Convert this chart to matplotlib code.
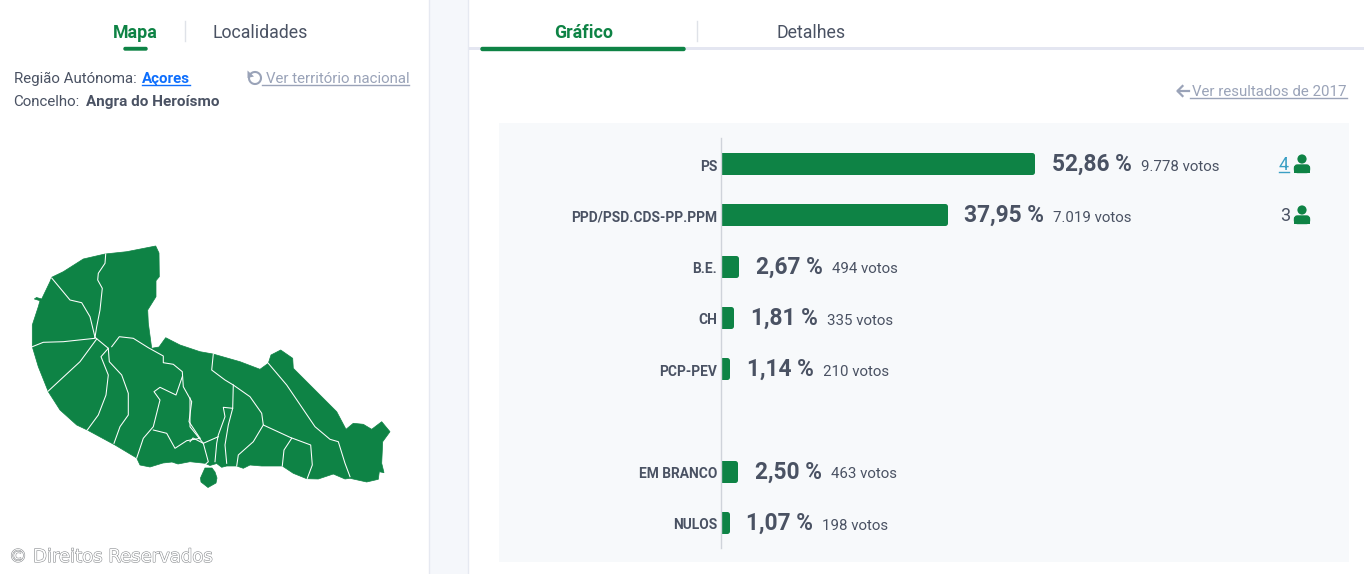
import matplotlib
matplotlib.use("Agg")
import matplotlib.pyplot as plt
import matplotlib.patheffects as pe
from matplotlib.patches import Polygon, Rectangle, Circle, FancyBboxPatch, Arc
from matplotlib.transforms import ScaledTranslation

plt.rcParams["font.family"] = ["Roboto", "DejaVu Sans"]

# dados
partidos = ["PS", "PPD/PSD.CDS-PP.PPM", "B.E.", "CH", "PCP-PEV", "", "EM BRANCO", "NULOS"]
percent = [52.86, 37.95, 2.67, 1.81, 1.14, 0, 2.50, 1.07]
percent_txt = ["52,86 %", "37,95 %", "2,67 %", "1,81 %", "1,14 %", "", "2,50 %", "1,07 %"]
votos_txt = ["9.778 votos", "7.019 votos", "494 votos", "335 votos", "210 votos", "", "463 votos", "198 votos"]
mandatos = ["4", "3"]

VERDE = "#0e8345"
ESCURO = "#4a5263"
CINZA = "#9aa3b8"

# contorno do concelho (pixeis)
ilha = [(155.7, 246), (159, 253), (159.3, 276.7), (156, 280.7), (156, 296.7), (147.7, 310), (148.3, 323),
        (151.7, 348.3), (159, 347), (165.7, 337.7), (180, 345), (200, 351.7), (213, 354), (240, 361.7),
        (260, 369.3), (268.3, 363.3), (271, 355), (280.7, 350), (292.7, 358.3), (293.3, 368.3),
        (336.7, 411.7), (346, 429.3), (353.3, 423.3), (363.3, 424.3), (371.7, 429.3), (381.7, 421.7),
        (390, 431.7), (382.7, 441.7), (381.7, 463.3), (384, 472.7), (379.3, 471.7), (378.3, 479.3),
        (366.7, 482), (350, 478.3), (345, 479), (333.3, 474), (318.3, 479), (306.7, 478.7), (293.3, 473.3),
        (282.3, 466), (261.7, 466), (250, 465), (243.3, 468.3), (236.7, 466), (226.7, 466), (221.7, 467.3),
        (216.7, 463.5), (210, 465.5), (205, 463.3), (190, 461.7), (178, 464), (172, 462), (163, 463),
        (150, 467), (140, 465), (136.7, 458), (115, 445), (87.3, 430), (76.7, 425), (60, 410), (48.3, 391.7),
        (38.3, 366.7), (32.3, 346.7), (32.3, 325), (38.3, 306.7), (40, 300.7), (34.3, 299), (36.5, 297.5),
        (41.7, 299), (50, 281.7), (51.7, 277.3), (63.3, 271.7), (83.3, 259), (105, 254), (126.7, 251.7)]
ilheu = [(205, 468), (212, 468), (215, 472), (217, 478), (216, 483), (208, 487.5), (201, 482), (200.5, 478)]

fronteiras = [
    [(105.7, 254), (105, 263.3), (98.3, 273.3), (97.7, 280), (102.3, 288.3), (100, 310), (96.7, 326.7), (95, 337.3)],
    [(51.7, 278), (70, 300), (81.7, 302.7), (90, 316.7), (95, 337.3)],
    [(32.3, 346.7), (43.3, 342.3), (63.3, 341.7), (95, 338.3)],
    [(48.3, 391), (80, 361.7), (96.7, 339)],
    [(95, 337.3), (108.3, 348.3), (101, 356.7), (108.3, 375), (106, 395), (98.3, 415), (87.3, 430)],
    [(108.3, 348.3), (109.3, 361.7), (121.7, 375), (128.3, 393.3), (128.3, 415), (120, 426.7), (114, 443.3)],
    [(111.7, 346.7), (119.3, 336.7), (133.3, 338.3), (148.3, 347.7), (163.3, 356), (163.3, 362.7), (173.3, 364.3),
     (182.3, 371.7), (183.3, 386.7), (191.7, 401.7), (189, 421.7), (200, 438.3)],
    [(182.3, 376.7), (176, 395), (160, 387.3), (154, 391.7), (160, 400), (153.3, 426.7), (143.3, 438.3), (136.7, 458)],
    [(153.3, 430), (166.7, 433.3), (175, 448.3), (186.7, 440.7), (200, 438.3)],
    [(213.3, 354), (211.7, 370), (225, 380), (233.3, 385), (250, 396.7), (261.7, 413.3), (263.3, 425), (290, 437.3),
     (310.7, 445), (312.3, 465), (307.3, 478.3)],
    [(268.3, 363.3), (286.7, 385), (315, 426.7), (330, 439.3), (338.3, 441.7), (345, 463.3), (350, 476.7)],
    [(233.3, 385), (232.7, 408.3), (223.3, 407.3), (225, 416.7), (218.3, 435), (216.7, 443.3), (215, 461.7)],
    [(232.7, 408.3), (228.3, 425), (225, 445), (226.7, 463.3)],
    [(263.3, 425), (253.3, 441.7), (238.3, 455), (236.7, 466)],
    [(291.7, 438.3), (284, 450), (282.3, 466)],
    [(190, 398), (190, 426.7), (203.3, 443.3), (208.3, 461.7), (205, 464.7)],
    [(190, 441.7), (193, 438), (203.3, 443.3), (218.3, 436.7)],
]

fig = plt.figure(figsize=(13.64, 5.74), dpi=100, facecolor="white")

# fundo da pagina em pixeis
pg = fig.add_axes([0, 0, 1, 1])
pg.set_xlim(0, 1364)
pg.set_ylim(574, 0)
pg.axis("off")

pg.add_patch(Rectangle((429, 0), 39, 574, fc="#f5f7fb", ec="none"))
pg.plot([429, 429], [0, 574], color="#e6e9f1", lw=1)
pg.plot([468, 468], [0, 574], color="#e6e9f1", lw=1)
pg.add_patch(Rectangle((499, 123), 850, 439, fc="#f7f9fb", ec="none"))

# separadores
pg.add_patch(Rectangle((469, 47), 895, 3, fc="#e4e6f1", ec="none"))
pg.add_patch(FancyBboxPatch((481, 47.5), 204, 3, boxstyle="round,pad=0,rounding_size=1.5", fc=VERDE, ec=VERDE, lw=1))
pg.add_patch(FancyBboxPatch((124, 47.5), 23, 2.5, boxstyle="round,pad=0,rounding_size=1.2", fc=VERDE, ec=VERDE, lw=1))
pg.plot([184.5, 184.5], [21, 41], color="#dfe2e8", lw=1)
pg.plot([696.5, 696.5], [21, 41], color="#dfe2e8", lw=1)

pg.text(135.5, 33, "Mapa", color=VERDE, fontsize=12.8, fontweight="bold", ha="center", va="center")
pg.text(260.5, 33, "Localidades", color=ESCURO, fontsize=12.8, ha="center", va="center")
pg.text(583.5, 33, "Gráfico", color=VERDE, fontsize=12.8, fontweight="bold", ha="center", va="center")
pg.text(811, 33, "Detalhes", color=ESCURO, fontsize=12.8, ha="center", va="center")

pg.text(14, 79, "Região Autónoma:", color=ESCURO, fontsize=10.8, va="center")
pg.text(142, 79, "Açores", color="#0d6efd", fontsize=10.9, fontweight="bold", va="center")
pg.plot([142, 190], [85, 85], color="#0d6efd", lw=1)
pg.text(13.5, 102, "Concelho:", color=ESCURO, fontsize=10.8, va="center")
pg.text(86, 102, "Angra do Heroísmo", color=ESCURO, fontsize=11, fontweight="bold", va="center")

# icone de voltar
pg.add_patch(Arc((255, 78), 12, 12, theta1=-140, theta2=190, color=CINZA, lw=1.5))
pg.add_patch(Polygon([(247.5, 70.5), (254, 76.5), (247.5, 78)], closed=True, fc=CINZA, ec="none"))
pg.text(265.5, 79, "Ver território nacional", color=CINZA, fontsize=10.8, va="center")
pg.plot([262, 409], [85, 85], color=CINZA, lw=1)

# seta
pg.plot([1178, 1189], [91, 91], color=CINZA, lw=1.6)
pg.plot([1182.5, 1177.5, 1182.5], [86, 91, 96], color=CINZA, lw=1.6)
pg.text(1192.5, 92, "Ver resultados de 2017", color=CINZA, fontsize=10.8, va="center")
pg.plot([1190, 1347], [98, 98], color=CINZA, lw=1)

# mapa
pg.add_patch(Polygon(ilha, closed=True, fc=VERDE, ec=VERDE, lw=0.5))
pg.add_patch(Polygon(ilheu, closed=True, fc=VERDE, ec=VERDE, lw=0.5, joinstyle="round"))
for f in fronteiras:
    xs = [p[0] for p in f]
    ys = [p[1] for p in f]
    pg.plot(xs, ys, color="white", lw=0.75, solid_joinstyle="round")

# mandatos
pg.text(1289, 165, mandatos[0], color="#3a9fc4", fontsize=13, ha="right", va="center")
pg.plot([1279, 1289], [172, 172], color="#3a9fc4", lw=1)
pg.text(1290, 216, mandatos[1], color=ESCURO, fontsize=13, ha="right", va="center")
for yc in [164, 215]:
    pg.add_patch(Circle((1302, yc - 5), 4.6, fc=VERDE, ec="none"))
    pg.add_patch(FancyBboxPatch((1294.5, yc + 1), 15, 7.5, boxstyle="round,pad=0,rounding_size=3",
                                fc=VERDE, ec=VERDE, lw=1))
    pg.add_patch(Rectangle((1294, yc + 5), 16, 4, fc=VERDE, ec="none"))

# direitos
contorno = [pe.withStroke(linewidth=0.8, foreground="#8a8d90")]
pg.text(9, 557, "©", color="white", fontsize=13, va="center", family=["DejaVu Sans"], path_effects=contorno)
pg.text(33, 557, "Direitos Reservados", color="white", fontsize=13, va="center", family=["DejaVu Sans"],
        path_effects=contorno)

# grafico de barras
ax = fig.add_axes([720.6 / 1364, 1 - 548 / 574, (1349 - 720.6) / 1364, 410 / 574])
ax.patch.set_alpha(0)
y = list(range(len(partidos)))
barras = ax.barh(y, percent, height=0.332, color=VERDE, edgecolor=VERDE, linewidth=3.6)
for b, p in zip(barras, percent):
    b.set_joinstyle("round")
    b.set_visible(p > 0)
ax.set_xlim(0, 628.4 / 5.9)
ax.set_ylim(7.5, -0.5)
ax.set_yticks(y)
ax.set_yticklabels(partidos, fontsize=9.9, fontweight="bold", color=ESCURO)
ax.tick_params(axis="y", length=0, pad=2.4)
desce = ScaledTranslation(0, -1.5 / 100, fig.dpi_scale_trans)
for t in ax.get_yticklabels():
    t.set_transform(t.get_transform() + desce)
ax.set_xticks([])
for s in ["top", "right", "bottom"]:
    ax.spines[s].set_visible(False)
ax.spines["left"].set_color("#cfd3da")
ax.spines["left"].set_linewidth(1)

for i, p in enumerate(percent):
    if p == 0:
        continue
    ax.annotate(percent_txt[i], (p, i), xytext=(19.4 * 0.72, -5.2), textcoords="offset points",
                color=ESCURO, fontsize=16.4, fontweight="bold", va="baseline")
    dx = 76 if p < 10 else 89
    ax.annotate(votos_txt[i], (p, i), xytext=((19.4 + dx) * 0.72, -5.2), textcoords="offset points",
                color=ESCURO, fontsize=10.8, va="baseline")

fig.savefig("out.png", dpi=100)
